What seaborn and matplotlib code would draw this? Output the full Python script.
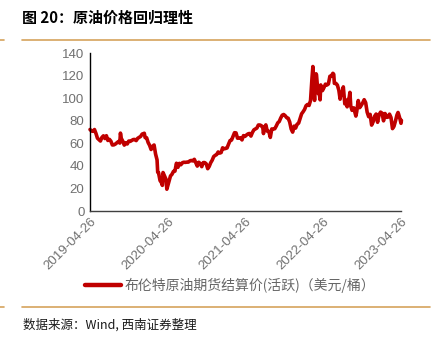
import matplotlib
matplotlib.use("Agg")
import matplotlib.pyplot as plt
import seaborn as sns
import pandas as pd
from matplotlib.lines import Line2D

# ---------------- data ----------------
dates = [
    "2019-04-26","2019-05-03","2019-05-10","2019-05-17","2019-05-24","2019-05-31","2019-06-07","2019-06-14",
    "2019-06-21","2019-06-28","2019-07-05","2019-07-12","2019-07-19","2019-07-26","2019-08-02","2019-08-09",
    "2019-08-16","2019-08-23","2019-08-30","2019-09-06","2019-09-13","2019-09-16","2019-09-20","2019-09-27",
    "2019-10-04","2019-10-11","2019-10-18","2019-10-25","2019-11-01","2019-11-08","2019-11-15","2019-11-22",
    "2019-11-29","2019-12-06","2019-12-13","2019-12-20","2019-12-27",
    "2020-01-03","2020-01-06","2020-01-10","2020-01-17","2020-01-24","2020-01-31","2020-02-07","2020-02-14",
    "2020-02-21","2020-02-28","2020-03-06","2020-03-09","2020-03-13","2020-03-20","2020-03-27","2020-03-31",
    "2020-04-03","2020-04-09","2020-04-17","2020-04-21","2020-04-24","2020-05-01","2020-05-08","2020-05-15",
    "2020-05-22","2020-05-29","2020-06-05","2020-06-12","2020-06-19","2020-06-26","2020-07-03","2020-07-10",
    "2020-07-17","2020-07-24","2020-07-31","2020-08-07","2020-08-14","2020-08-21","2020-08-28","2020-09-04",
    "2020-09-11","2020-09-18","2020-09-25","2020-10-02","2020-10-09","2020-10-16","2020-10-23","2020-10-30",
    "2020-11-06","2020-11-13","2020-11-20","2020-11-27","2020-12-04","2020-12-11","2020-12-18","2020-12-25",
    "2021-01-01","2021-01-08","2021-01-15","2021-01-22","2021-01-29","2021-02-05","2021-02-12","2021-02-19",
    "2021-02-26","2021-03-05","2021-03-12","2021-03-19","2021-03-26","2021-04-02","2021-04-09","2021-04-16",
    "2021-04-23","2021-04-30","2021-05-07","2021-05-14","2021-05-21","2021-05-28","2021-06-04","2021-06-11",
    "2021-06-18","2021-06-25","2021-07-02","2021-07-09","2021-07-16","2021-07-19","2021-07-23","2021-07-30",
    "2021-08-06","2021-08-13","2021-08-20","2021-08-27","2021-09-03","2021-09-10","2021-09-17","2021-09-24",
    "2021-10-01","2021-10-08","2021-10-15","2021-10-22","2021-10-29","2021-11-05","2021-11-12","2021-11-19",
    "2021-11-26","2021-12-03","2021-12-10","2021-12-17","2021-12-24","2021-12-31",
    "2022-01-07","2022-01-14","2022-01-21","2022-01-28","2022-02-04","2022-02-11","2022-02-18","2022-02-25",
    "2022-03-04","2022-03-08","2022-03-11","2022-03-16","2022-03-18","2022-03-23","2022-03-25","2022-04-01",
    "2022-04-08","2022-04-11","2022-04-14","2022-04-22","2022-04-29","2022-05-06","2022-05-13","2022-05-20",
    "2022-05-27","2022-06-03","2022-06-10","2022-06-14","2022-06-17","2022-06-24","2022-07-01","2022-07-08",
    "2022-07-14","2022-07-15","2022-07-22","2022-07-29","2022-08-05","2022-08-12","2022-08-16","2022-08-19",
    "2022-08-26","2022-08-29","2022-09-02","2022-09-08","2022-09-16","2022-09-23","2022-09-26","2022-09-30",
    "2022-10-07","2022-10-14","2022-10-21","2022-10-28","2022-11-04","2022-11-11","2022-11-18","2022-11-25",
    "2022-12-02","2022-12-09","2022-12-16","2022-12-23","2022-12-30",
    "2023-01-06","2023-01-13","2023-01-20","2023-01-27","2023-02-03","2023-02-10","2023-02-17","2023-02-24",
    "2023-03-03","2023-03-10","2023-03-17","2023-03-20","2023-03-24","2023-03-31","2023-04-07","2023-04-12",
    "2023-04-14","2023-04-21","2023-04-26","2023-04-28",
]
brent = [
    72.2,70.9,70.6,72.2,68.7,64.5,63.3,62.0,
    65.2,66.6,64.2,66.7,62.5,63.5,61.9,58.5,
    58.6,59.3,60.4,61.5,60.2,69.0,64.3,61.9,
    58.4,60.5,59.4,62.0,61.7,62.5,63.3,63.4,
    62.4,64.4,65.2,66.1,68.2,
    68.6,68.9,65.0,64.9,60.7,58.2,54.5,57.3,
    58.5,50.5,45.3,34.4,33.9,27.0,25.0,22.7,
    34.1,31.5,28.1,19.3,21.4,26.4,31.0,32.5,
    35.1,35.3,42.3,38.7,42.2,41.0,42.8,43.2,
    43.1,43.3,43.3,44.4,44.8,44.4,45.8,42.7,
    39.8,43.2,41.9,39.3,42.9,42.9,41.8,37.5,
    39.5,42.8,45.0,48.2,49.3,50.0,52.3,51.3,
    51.8,56.0,55.1,55.4,55.9,59.3,62.4,62.9,
    66.1,69.4,69.2,64.5,64.6,64.9,63.0,66.8,
    66.1,67.3,68.3,68.7,66.4,69.6,71.9,72.7,
    73.5,76.2,76.2,75.6,73.6,68.6,74.1,76.3,
    70.7,70.6,65.2,72.7,72.6,72.9,75.3,78.1,
    79.3,82.4,84.9,85.5,84.4,82.7,82.2,78.9,
    72.7,69.9,75.2,73.5,76.9,77.8,
    81.8,86.1,87.9,90.0,93.3,94.4,93.5,97.9,
    118.1,128.0,112.7,98.0,107.9,121.6,120.7,104.4,
    102.8,98.5,111.7,106.7,109.3,112.4,111.6,112.6,
    119.4,119.7,122.0,121.2,113.1,113.1,111.6,107.0,
    99.1,101.2,103.2,110.0,94.9,98.2,92.3,96.7,
    101.0,105.1,93.0,89.2,91.4,86.2,84.1,88.0,
    97.9,91.6,93.5,95.8,98.6,96.0,87.6,83.6,
    85.6,76.1,79.0,83.9,85.9,
    78.6,85.3,87.6,86.7,79.9,86.4,83.0,83.2,
    85.8,82.8,73.0,73.8,75.0,79.8,85.1,87.3,
    86.3,81.7,77.7,80.3,
]
tick_labels = ["2019-04-26", "2020-04-26", "2021-04-26", "2022-04-26", "2023-04-26"]
y_ticks = [0, 20, 40, 60, 80, 100, 120, 140]
series_name = "布伦特原油期货结算价(活跃)（美元/桶）"
title = "图 20：原油价格回归理性"
source = "数据来源：Wind, 西南证券整理"

df = pd.DataFrame({"date": pd.to_datetime(dates), "price": brent})

# ---------------- style ----------------
sns.set_theme(style="white")
plt.rcParams["font.family"] = ["Liberation Sans", "Noto Sans CJK SC", "DejaVu Sans"]
cjk = ["Noto Sans CJK SC", "DejaVu Sans"]

W, H = 438, 339
fig = plt.figure(figsize=(W / 100, H / 100), dpi=100)
ax = fig.add_axes([90 / W, 1 - 211 / H, (401 - 90) / W, (211 - 53) / H])

sns.lineplot(data=df, x="date", y="price", ax=ax, color="#C00000", linewidth=2.6,
             label=series_name, legend=False)
ax.lines[0].set_clip_on(False)

ax.set_xlim(pd.Timestamp("2019-04-26"), pd.Timestamp("2023-04-26"))
ax.set_ylim(0, 140)
ax.set_yticks(y_ticks)
ax.set_xticks(pd.to_datetime(tick_labels))
ax.set_xticklabels(tick_labels, rotation=45, ha="right", rotation_mode="anchor")
ax.set_xlabel("")
ax.set_ylabel("")

for s in ["top", "right"]:
    ax.spines[s].set_visible(False)
for s in ["left", "bottom"]:
    ax.spines[s].set_color("#000000")
    ax.spines[s].set_linewidth(1.0)
ax.spines["bottom"].set_color("#404040")

ax.tick_params(axis="both", direction="in", length=4, width=1, color="#000000",
               labelsize=9.5, labelcolor="#707070", pad=4)
ax.tick_params(axis="x", pad=3)
ax.grid(False)

# legend
handle = Line2D([0], [0], color="#C00000", linewidth=3.2)
leg = fig.legend([handle], [series_name], loc="center left",
                 bbox_to_anchor=(72 / W, 1 - 285 / H), frameon=False,
                 handlelength=2.6, handletextpad=0.3, prop={"family": cjk, "size": 10})
for t in leg.get_texts():
    t.set_color("#666666")

# title and source
fig.text(22 / W, 1 - 18 / H, title, ha="left", va="center", fontsize=10.8,
         fontweight="bold", family=cjk, color="#000000")
fig.text(23 / W, 1 - 325 / H, source, ha="left", va="center", fontsize=9,
         style="italic", family=cjk, color="#1a1a1a")

# decorative rules
rule = "#D6A35C"
for y in (40, 307):
    fig.add_artist(Line2D([22 / W, 430 / W], [1 - y / H, 1 - y / H], color=rule, linewidth=1.2))
    fig.add_artist(Line2D([0, 4 / W], [1 - y / H, 1 - y / H], color=rule, linewidth=1.2))

fig.savefig("out.png", dpi=100, facecolor="white")
